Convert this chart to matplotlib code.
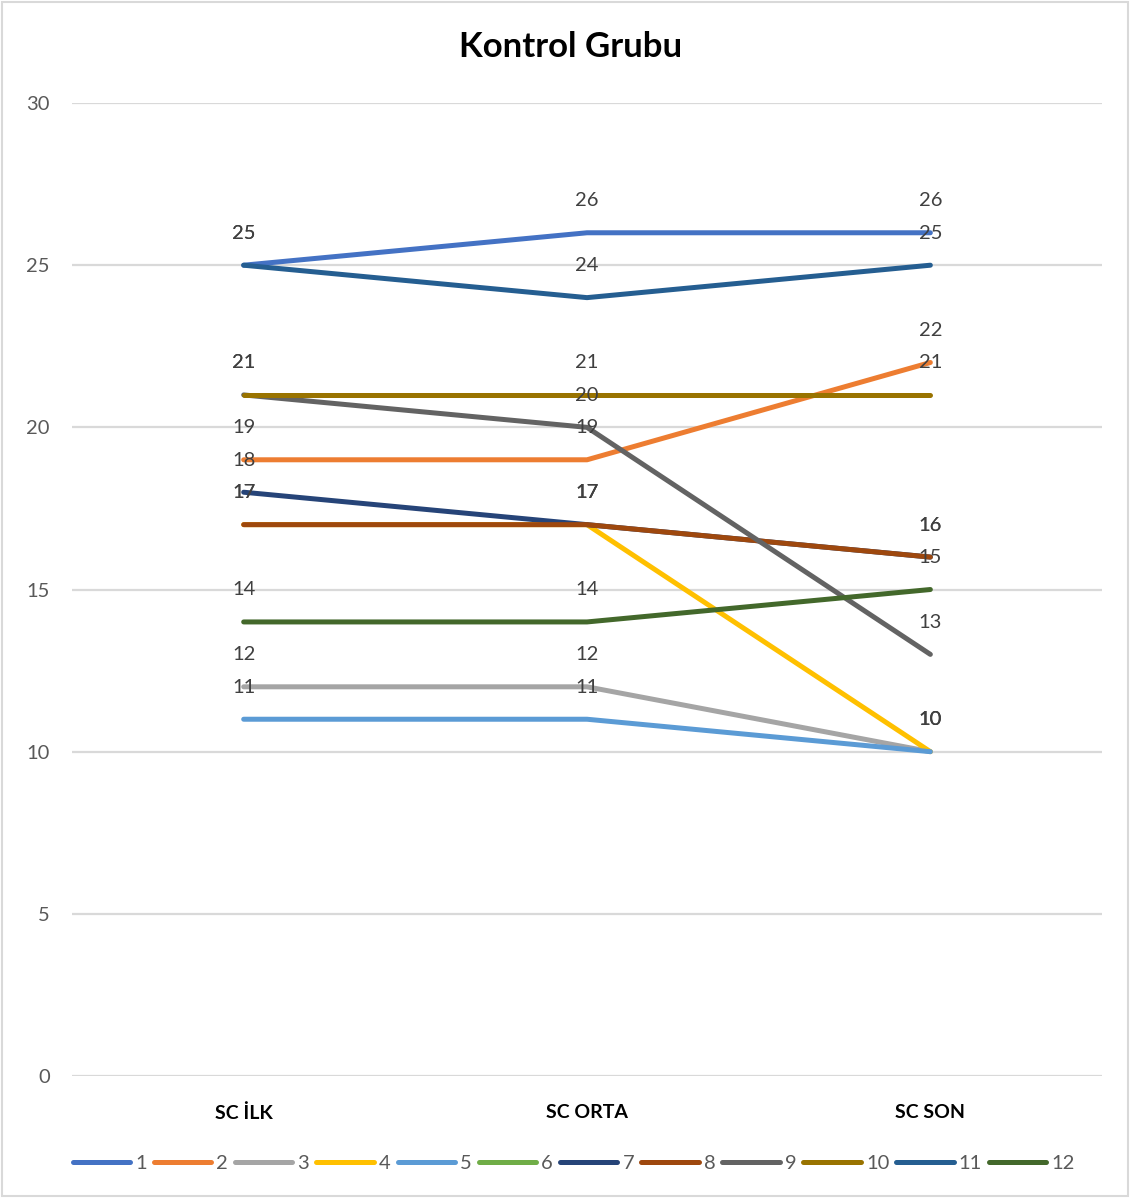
import numpy as np
import matplotlib
matplotlib.use("Agg")
import matplotlib.pyplot as plt
from matplotlib.patches import Rectangle

plt.rcParams['font.family'] = ['Lato', 'DejaVu Sans']

title = "Kontrol Grubu"
categories = ["SC İLK", "SC ORTA", "SC SON"]
series_names = ["1", "2", "3", "4", "5", "6", "7", "8", "9", "10", "11", "12"]

s1 = [25, 26, 26]
s2 = [19, 19, 22]
s3 = [12, 12, 10]
s4 = [17, 17, 10]
s5 = [11, 11, 10]
s6 = [np.nan, np.nan, np.nan]
s7 = [18, 17, 16]
s8 = [17, 17, 16]
s9 = [21, 20, 13]
s10 = [21, 21, 21]
s11 = [25, 24, 25]
s12 = [14, 14, 15]
values = [s1, s2, s3, s4, s5, s6, s7, s8, s9, s10, s11, s12]

colors = ["#4472C4", "#ED7D31", "#A5A5A5", "#FFC000", "#5B9BD5", "#70AD47",
          "#264478", "#9E480E", "#636363", "#997300", "#255E91", "#43682B"]

y_ticks = [0, 5, 10, 15, 20, 25, 30]

fig = plt.figure(figsize=(11.34, 12.01), dpi=100)
ax = fig.add_axes([0.0635, 0.1041, 0.9083, 0.8101])

x = np.arange(len(categories))
lines = []
for name, vals, col in zip(series_names, values, colors):
    ln, = ax.plot(x, vals, color=col, lw=3.6, solid_capstyle='round',
                  solid_joinstyle='round', label=name, zorder=3)
    lines.append(ln)

# value labels sit above each point
for vals in values:
    for xi, v in zip(x, vals):
        if np.isnan(v):
            continue
        ax.annotate(f"{int(v)}", (xi, v), xytext=(0, 23), textcoords='offset points',
                    ha='center', va='center', fontsize=14.5, color='#404040', zorder=5)

ax.set_xlim(-0.5, 2.5)
ax.set_ylim(0, 30)
ax.set_yticks(y_ticks)
ax.set_yticklabels([str(t) for t in y_ticks])
ax.set_xticks(x)
ax.set_xticklabels(categories, fontsize=14, fontweight='bold', color='#000000')
ax.tick_params(axis='y', length=0, labelsize=14.5, labelcolor='#595959', pad=16)
ax.tick_params(axis='x', length=0, pad=20)
ax.grid(axis='y', color='#D9D9D9', lw=1.6, zorder=0)
ax.set_axisbelow(True)
for sp in ax.spines.values():
    sp.set_visible(False)

fig.text(0.503, 0.961, title, ha='center', va='center', fontsize=25,
         fontweight='bold', color='#000000')

leg = fig.legend(handles=lines, labels=series_names, loc='center',
                 bbox_to_anchor=(0.506, 0.0316), ncol=12, frameon=False,
                 handlelength=2.85, handletextpad=0.25, columnspacing=0.35,
                 fontsize=14.5)
for t in leg.get_texts():
    t.set_color('#595959')
for h in leg.legend_handles:
    h.set_linewidth(3.6)
    h.set_solid_capstyle('round')

fig.patches.append(Rectangle((0.002, 0.004), 0.993, 0.994, transform=fig.transFigure,
                             fill=False, edgecolor='#D9D9D9', lw=1.5))

fig.savefig("out.png", dpi=100, facecolor='white')
